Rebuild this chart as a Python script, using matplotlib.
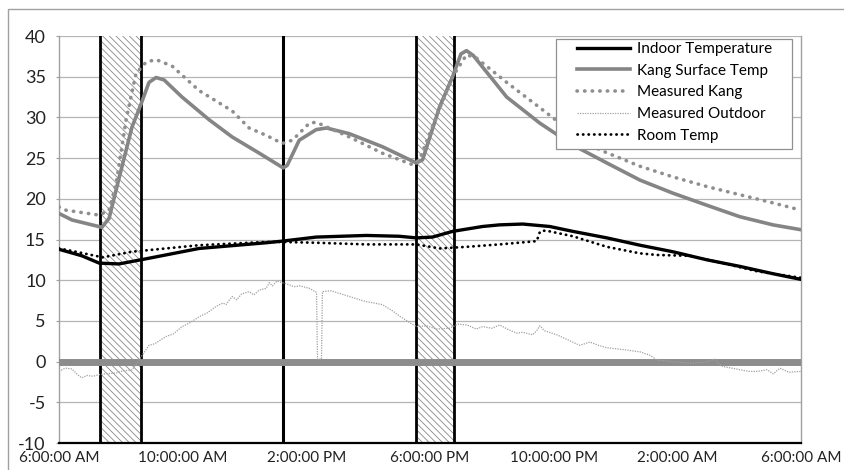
import matplotlib
matplotlib.use("Agg")
import matplotlib.pyplot as plt
from matplotlib.patches import Rectangle

plt.rcParams['font.family'] = ['Lato', 'DejaVu Sans']
plt.rcParams['hatch.linewidth'] = 0.6
plt.rcParams['axes.unicode_minus'] = False

# hours after 6:00 AM
tick_hours = [0, 4, 8, 12, 16, 20, 24]
tick_labels = ['6:00:00 AM', '10:00:00 AM', '2:00:00 PM', '6:00:00 PM',
               '10:00:00 PM', '2:00:00 AM', '6:00:00 AM']

fire_periods = [(1.33, 2.64), (11.56, 12.76)]
marker_hour = 7.25

indoor_t = [0, 0.74, 1.30, 1.94, 2.91, 4.53, 6.70, 7.22, 8.32, 9.94, 11.0, 11.56,
            12.08, 12.73, 13.70, 14.25, 15.0, 15.87, 16.62, 17.72, 18.79, 19.85,
            20.96, 22.02, 23.09, 24]
indoor_v = [13.8, 13.0, 12.1, 12.0, 12.7, 13.9, 14.6, 14.8, 15.3, 15.5, 15.4, 15.2,
            15.3, 16.0, 16.6, 16.8, 16.9, 16.6, 16.0, 15.2, 14.3, 13.5,
            12.5, 11.7, 10.8, 10.1]

kang_t = [0, 0.42, 1.39, 1.62, 1.94, 2.36, 2.66, 2.91, 3.14, 3.4, 3.98, 4.86, 5.60,
          6.48, 7.25, 7.38, 7.77, 8.32, 8.65, 9.39, 10.46, 11.56, 11.76, 12.31,
          12.73, 13.0, 13.18, 13.4, 14.48, 15.55, 16.62, 17.72, 18.79, 19.85,
          20.96, 22.02, 23.09, 24]
kang_v = [18.2, 17.4, 16.5, 17.6, 22.5, 28.8, 31.7, 34.3, 34.9, 34.6, 32.5, 29.7, 27.6,
          25.6, 23.8, 24.1, 27.2, 28.5, 28.7, 28.0, 26.4, 24.4, 24.8, 31.3,
          35.0, 37.8, 38.2, 37.6, 32.5, 29.3, 26.6, 24.4, 22.3, 20.7,
          19.2, 17.8, 16.8, 16.2]

meas_kang_t = [0, 0.23, 1.30, 1.62, 1.85, 2.17, 2.49, 2.82, 3.14, 3.66, 4.53, 5.60,
               6.15, 6.70, 7.22, 7.55, 8.10, 8.32, 9.39, 10.46, 11.43, 11.66, 12.3,
               12.73, 13.18, 13.5, 14.48, 15.55, 16.5, 17.5, 18.79, 19.85, 20.96,
               22.02, 23.09, 24]
meas_kang_v = [19.0, 18.6, 18.0, 18.6, 21.9, 29.7, 35.4, 36.8, 37.1, 36.3, 33.3, 30.8,
               28.7, 27.8, 26.8, 27.2, 29.3, 29.4, 27.6, 25.6, 24.2, 24.8, 31.0,
               35.0, 37.7, 37.3, 34.3, 31.2, 28.4, 26.0, 24.0, 22.7, 21.5,
               20.5, 19.5, 18.6]

outdoor_t = [0, 0.2, 0.42, 0.6, 0.74, 0.9, 1.1, 1.30, 1.5, 1.85, 2.0, 2.36, 2.5, 2.66,
             2.91, 3.1, 3.47, 3.7, 3.98, 4.2, 4.53, 4.8, 5.09, 5.3, 5.4, 5.60, 5.75,
             5.9, 6.15, 6.3, 6.48, 6.70, 6.80, 6.9, 7.05, 7.22, 7.4, 7.6, 7.8, 8.10,
             8.33, 8.36, 8.49, 8.52, 8.8, 9.39, 9.9, 10.46, 10.8, 11.01, 11.3, 11.56,
             11.9, 12.2, 12.63, 12.9, 13.2, 13.5, 13.70, 14.0, 14.25, 14.5, 14.80,
             15.0, 15.32, 15.45, 15.55, 15.7, 16.10, 16.5, 16.84, 17.17, 17.45,
             17.72, 18.2, 18.79, 19.1, 19.34, 19.8, 20.40, 20.9, 21.21, 21.35,
             21.47, 21.9, 22.3, 22.57, 22.9, 23.1, 23.32, 23.6, 24]
outdoor_v = [-1.2, -0.8, -0.9, -1.6, -2.0, -1.7, -1.8, -1.6, -1.5, -1.4, -1.2, -1.0, -0.3, 0.6,
             2.0, 2.2, 3.1, 3.4, 4.3, 4.7, 5.5, 6.0, 6.8, 7.2, 7.0, 8.0, 7.6,
             8.3, 8.6, 8.2, 8.8, 9.0, 9.7, 9.3, 9.9, 9.7, 9.5, 9.2, 9.3, 9.0,
             8.5, 0.3, 0.3, 8.6, 8.7, 8.0, 7.4, 7.0, 6.2, 5.6, 4.9, 4.3,
             4.4, 4.0, 4.1, 4.6, 4.5, 4.0, 4.3, 4.1, 4.5, 4.0, 3.5,
             3.6, 3.3, 3.8, 4.4, 3.8, 3.3, 2.6, 2.0, 2.4, 2.0,
             1.7, 1.5, 1.2, 0.8, 0.2, 0.0, -0.2, -0.1, 0.3, -0.3,
             -0.6, -0.9, -1.2, -1.2, -1.0, -1.5, -0.8, -1.3, -1.2]

room_t = [0, 0.42, 1.30, 1.4, 2.36, 4.53, 6.70, 7.22, 8.32, 9.94, 11.56, 12.31,
          13.18, 14.25, 15.45, 15.55, 15.64, 15.87, 16.62, 17.72, 18.79, 19.34,
          20.40, 21.47, 22.57, 24]
room_v = [13.9, 13.6, 12.9, 12.8, 13.5, 14.3, 14.7, 14.7, 14.6, 14.4, 14.4, 13.9,
          14.1, 14.4, 14.8, 15.9, 16.1, 16.0, 15.4, 14.1, 13.3, 13.1,
          13.0, 12.1, 11.1, 10.3]


def main():
    fig = plt.figure(figsize=(8.45, 4.7), dpi=100)
    ax = fig.add_axes([0.0698, 0.0574, 0.8782, 0.866])

    # outer chart border
    fig.add_artist(Rectangle((8 / 845, -0.1), 1.1, 1.1 - 9 / 470, fill=False,
                             edgecolor='#a0a0a0', lw=1.0, transform=fig.transFigure))

    for a, b in fire_periods:
        ax.axvspan(a, b, facecolor='white', edgecolor='#8a8a8a', hatch='\\\\\\\\\\',
                   lw=0, zorder=1)
        ax.axvline(a, color='black', lw=2, zorder=2)
        ax.axvline(b, color='black', lw=2, zorder=2)
    ax.axvline(marker_hour, color='black', lw=2.2, zorder=2)

    ax.axhline(0, color='#8c8c8c', lw=5, zorder=3)

    ax.plot(indoor_t, indoor_v, color='black', lw=2.4, zorder=6,
            label='Indoor Temperature')
    ax.plot(kang_t, kang_v, color='#858585', lw=2.6, zorder=5,
            label='Kang Surface Temp')
    ax.plot(meas_kang_t, meas_kang_v, color='#8f8f8f', lw=2.6,
            linestyle=(0, (0.1, 2.0)), dash_capstyle='round', zorder=5,
            label='Measured Kang')
    ax.plot(outdoor_t, outdoor_v, color='#a0a0a0', lw=0.9, linestyle=(0, (1, 1)),
            zorder=4, label='Measured Outdoor')
    ax.plot(room_t, room_v, color='black', lw=2.0, linestyle=(0, (0.1, 1.9)),
            dash_capstyle='round', zorder=6, label='Room Temp')

    ax.set_xlim(0, 24)
    ax.set_ylim(-10, 40)
    ax.set_yticks(range(-10, 41, 5))
    ax.set_xticks(tick_hours)
    ax.set_xticklabels(tick_labels)
    ax.tick_params(axis='x', length=0, labelsize=11, labelcolor='#222222', pad=6)
    ax.tick_params(axis='y', length=2.5, color='#a0a0a0', labelsize=13,
                   labelcolor='#222222', pad=7)
    ax.grid(axis='y', color='#b5b5b5', lw=0.9, zorder=0)
    ax.set_axisbelow(True)

    for s in ['left', 'right']:
        ax.spines[s].set_color('#a0a0a0')
        ax.spines[s].set_linewidth(1)
    ax.spines['top'].set_visible(False)
    ax.spines['bottom'].set_color('black')
    ax.spines['bottom'].set_linewidth(1.6)

    # legend frame drawn separately so the inner padding can be wider than tall
    ax.add_patch(Rectangle((0.670, 0.722), 0.318, 0.271, transform=ax.transAxes,
                           facecolor='white', edgecolor='#909090', lw=0.9,
                           zorder=9))
    leg = ax.legend(loc='upper left', bbox_to_anchor=(0.698, 0.985),
                    borderaxespad=0, borderpad=0, frameon=False, fontsize=11,
                    handlelength=3.45, handletextpad=0.45, labelspacing=0.5)
    leg.set_zorder(10)

    plt.savefig('out.png', dpi=100)


if __name__ == "__main__":
    main()
